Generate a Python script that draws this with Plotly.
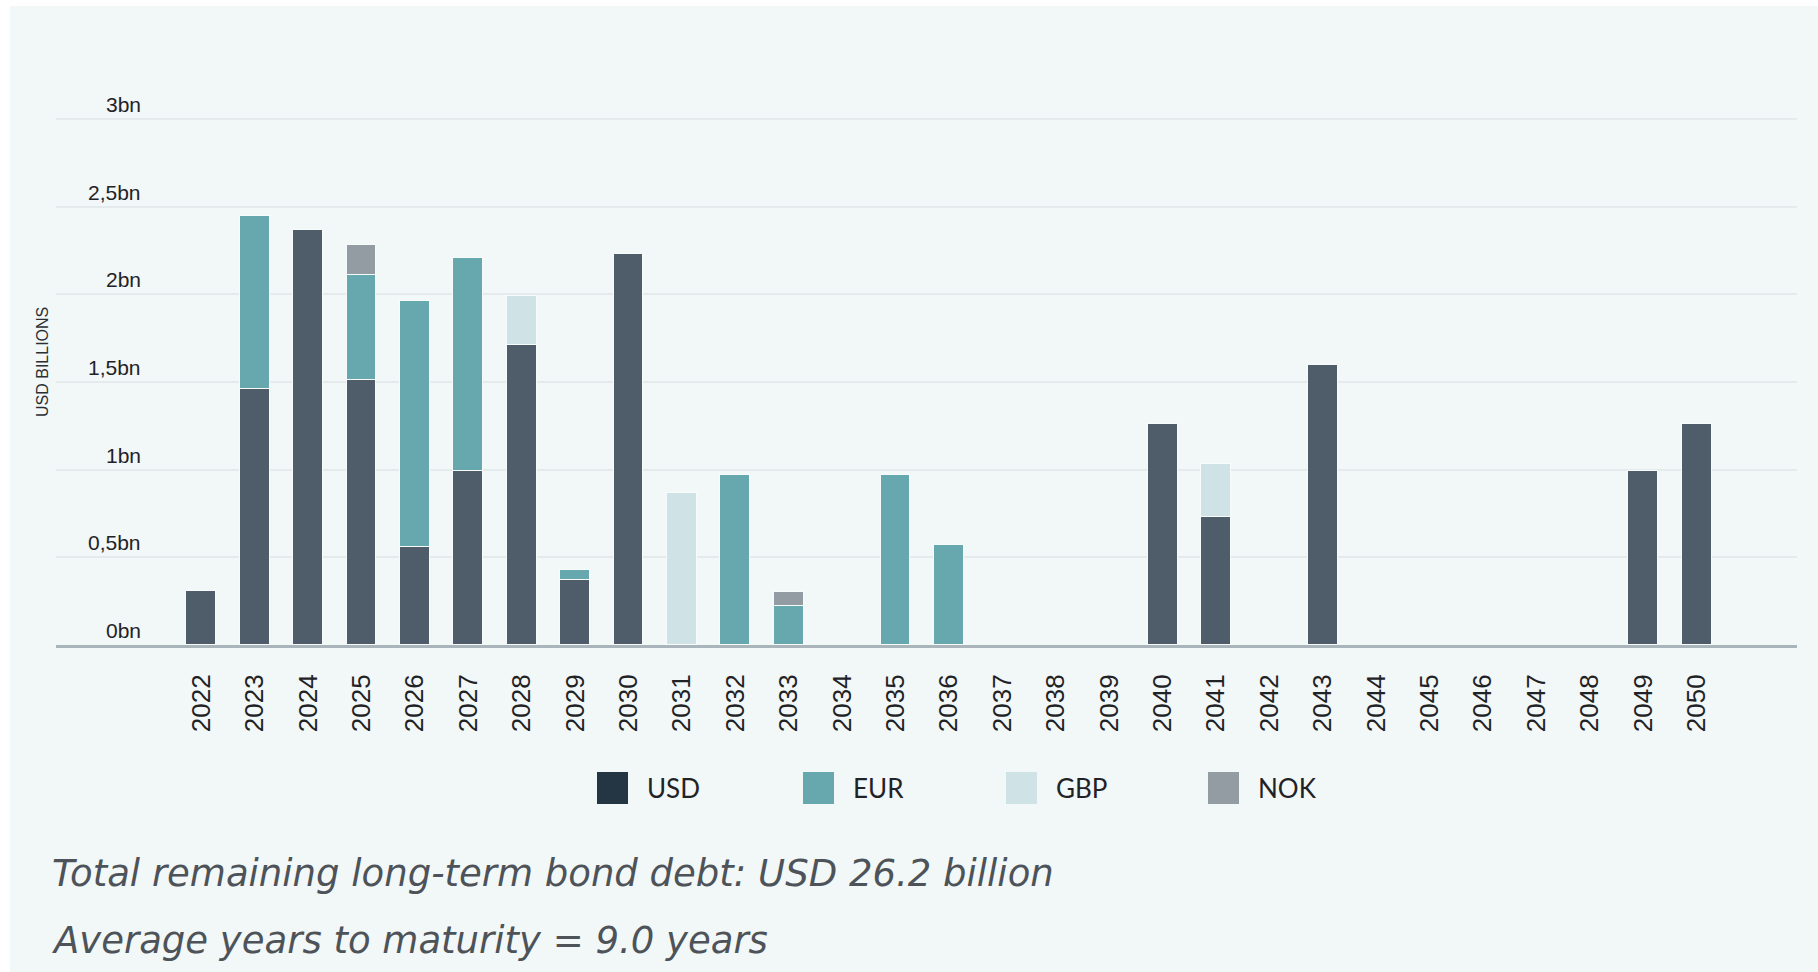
import plotly.graph_objects as go

# Bond maturity profile, USD billions per maturity year
years = list(range(2022, 2051))
usd = [0.31, 1.46, 2.37, 1.51, 0.56, 0.99, 1.71, 0.37, 2.23, None,
       None, None, None, None, None, None, None, None, 1.26, 0.73,
       None, 1.60, None, None, None, None, None, 0.99, 1.26]
eur = [None, 0.99, None, 0.60, 1.40, 1.22, None, 0.06, None, None,
       0.97, 0.22, None, 0.97, 0.57, None, None, None, None, None,
       None, None, None, None, None, None, None, None, None]
gbp = [None, None, None, None, None, None, 0.28, None, None, 0.87,
       None, None, None, None, None, None, None, None, None, 0.30,
       None, None, None, None, None, None, None, None, None]
nok = [None, None, None, 0.17, None, None, None, None, None, None,
       None, 0.08, None, None, None, None, None, None, None, None,
       None, None, None, None, None, None, None, None, None]

currencies = ["USD", "EUR", "GBP", "NOK"]
series = {"USD": usd, "EUR": eur, "GBP": gbp, "NOK": nok}
bar_colors = {"USD": "#4f5d6b", "EUR": "#66a8ad", "GBP": "#cfe2e5", "NOK": "#939ca2"}
key_colors = {"USD": "#243544", "EUR": "#66a8ad", "GBP": "#cfe2e5", "NOK": "#939ca2"}

y_ticks = [0, 0.5, 1, 1.5, 2, 2.5, 3]
y_tick_text = ["0bn", "0,5bn", "1bn", "1,5bn", "2bn", "2,5bn", "3bn"]

caption_lines = ["Total remaining long-term bond debt: USD 26.2 billion",
                 "Average years to maturity = 9.0 years"]

# Page geometry
W, H = 1818, 972
ML, MR, MT, MB = 56, 21, 31, 327
PW, PH = W - ML - MR, H - MT - MB


def px_x(px):
    return (px - ML) / PW


def px_y(py):
    return (H - MB - py) / PH


PANEL = "#f2f7f7"
GRID = "#e5ebec"
TEXT = "#1f2326"

fig = go.Figure()
for cur in currencies:
    fig.add_trace(go.Bar(
        x=years, y=series[cur], name=cur,
        marker=dict(color=bar_colors[cur], line=dict(color="#f7fbfb", width=1.5)),
        width=0.56, showlegend=False,
    ))

annotations = []
# value labels on the y axis, sitting just above each gridline
for v, t in zip(y_ticks, y_tick_text):
    annotations.append(dict(
        x=px_x(143), xref="paper", y=v, yref="y", text=t, showarrow=False,
        xanchor="right", yanchor="bottom", yshift=1,
        font=dict(family="Liberation Sans", size=21, color=TEXT),
    ))
annotations.append(dict(
    x=px_x(42), xref="paper", y=px_y(362), yref="paper", text="USD BILLIONS",
    showarrow=False, textangle=-90, xanchor="center", yanchor="middle",
    font=dict(family="Liberation Sans", size=16, color="#2b2f33"),
))

# currency key
shapes = []
key_left = [597, 803, 1006, 1208]
for cur, lx in zip(currencies, key_left):
    shapes.append(dict(
        type="rect", xref="paper", yref="paper",
        x0=px_x(lx), x1=px_x(lx + 31), y0=px_y(804), y1=px_y(772),
        fillcolor=key_colors[cur], line=dict(width=0), layer="above",
    ))
    annotations.append(dict(
        x=px_x(lx + 48), xref="paper", y=px_y(788), yref="paper", text=cur,
        showarrow=False, xanchor="left", yanchor="middle",
        font=dict(family="Lato", size=26, color=TEXT),
    ))

# summary lines
for line, base in zip(caption_lines, [886, 953]):
    annotations.append(dict(
        x=px_x(50), xref="paper", y=px_y(base - 13), yref="paper", text=line,
        showarrow=False, xanchor="left", yanchor="middle",
        font=dict(family="DejaVu Sans", size=37, color="#4d5358", style="italic", weight=200),
    ))

# white frame strips along the top and left edge of the page
shapes.append(dict(type="rect", xref="paper", yref="paper", x0=px_x(0), x1=px_x(10),
                   y0=px_y(H), y1=px_y(0), fillcolor="white", line=dict(width=0), layer="below"))
shapes.append(dict(type="rect", xref="paper", yref="paper", x0=px_x(0), x1=px_x(W),
                   y0=px_y(6), y1=px_y(0), fillcolor="white", line=dict(width=0), layer="below"))

fig.update_layout(
    width=W, height=H,
    margin=dict(l=ML, r=MR, t=MT, b=MB),
    paper_bgcolor=PANEL, plot_bgcolor=PANEL,
    barmode="stack", bargap=0,
    annotations=annotations, shapes=shapes,
    xaxis=dict(
        range=[2019.28, 2051.88], tickmode="array", tickvals=years,
        ticktext=[str(y) for y in years], tickangle=-90,
        tickfont=dict(family="Liberation Sans", size=26, color=TEXT),
        ticklabelstandoff=16, ticks="", showgrid=False, zeroline=False,
        showline=True, linecolor="#a9b5bb", linewidth=3,
    ),
    yaxis=dict(
        range=[0, 3.503], tickmode="array", tickvals=[0.5, 1, 1.5, 2, 2.5, 3, 3.5],
        showticklabels=False, ticks="", showgrid=True, gridcolor=GRID, gridwidth=2,
        zeroline=False, showline=False,
    ),
)

fig.write_html("out.html")
